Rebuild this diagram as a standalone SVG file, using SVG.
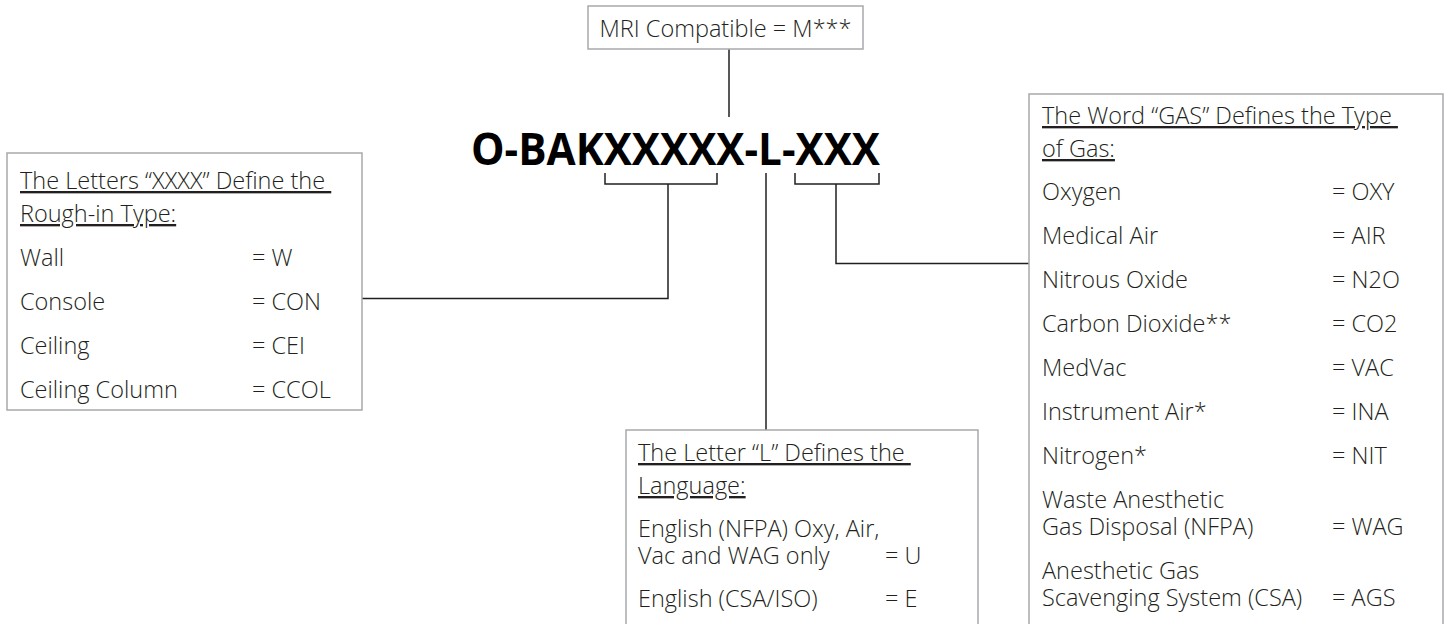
<svg xmlns="http://www.w3.org/2000/svg" width="1448" height="624" viewBox="0 0 1448 624">
<style>
.box{fill:#fff;stroke:#a7a9ac;stroke-width:1.5}
.t{font-family:"Open Sans","Liberation Sans",sans-serif;font-weight:300;font-size:23.5px;fill:#231f20}
.h{text-decoration:underline}
.title{font-family:"Open Sans","Liberation Sans",sans-serif;font-weight:700;font-size:44px;fill:#000}
.c{fill:none;stroke:#231f20;stroke-width:1.5}
</style>
<rect width="1448" height="624" fill="#fff"/>
<g id="connectors">
<path class="c" d="M729 49V117"/>
<path class="c" d="M605 173V184H717V173M668 184V298.5H362"/>
<path class="c" d="M766 173V430"/>
<path class="c" d="M795 173V184H879V173M836 184V263.5H1029"/>
</g>
<g id="mri">
<rect class="box" x="588" y="6" width="275" height="43"/>
<text class="t" x="725.5" y="37" text-anchor="middle">MRI Compatible = M***</text>
</g>
<g id="code">
<text class="title" x="471" y="165" textLength="409" lengthAdjust="spacingAndGlyphs">O-BAKXXXXX-L-XXX</text>
</g>
<g id="roughin">
<rect class="box" x="7" y="153" width="355" height="257"/>
<text class="t h" x="20" y="189" xml:space="preserve">The Letters “XXXX” Define the </text>
<text class="t h" x="20" y="222">Rough-in Type:</text>
<text class="t" x="20" y="266">Wall</text><text class="t" x="252" y="266">= W</text>
<text class="t" x="20" y="310">Console</text><text class="t" x="252" y="310">= CON</text>
<text class="t" x="20" y="354">Ceiling</text><text class="t" x="252" y="354">= CEI</text>
<text class="t" x="20" y="398">Ceiling Column</text><text class="t" x="252" y="398">= CCOL</text>
</g>
<g id="language">
<rect class="box" x="626" y="430" width="352" height="200"/>
<text class="t h" x="638" y="461" xml:space="preserve">The Letter “L” Defines the </text>
<text class="t h" x="638" y="494">Language:</text>
<text class="t" x="638" y="537">English (NFPA) Oxy, Air,<tspan x="638" y="564">Vac and WAG only</tspan></text>
<text class="t" x="885" y="564">= U</text>
<text class="t" x="638" y="607">English (CSA/ISO)</text><text class="t" x="885" y="607">= E</text>
</g>
<g id="gas">
<rect class="box" x="1029" y="94" width="414" height="536"/>
<text class="t h" x="1042" y="124" xml:space="preserve">The Word “GAS” Defines the Type </text>
<text class="t h" x="1042" y="157">of Gas:</text>
<text class="t" x="1042" y="200">Oxygen</text><text class="t" x="1332" y="200">= OXY</text>
<text class="t" x="1042" y="244">Medical Air</text><text class="t" x="1332" y="244">= AIR</text>
<text class="t" x="1042" y="288">Nitrous Oxide</text><text class="t" x="1332" y="288">= N2O</text>
<text class="t" x="1042" y="332">Carbon Dioxide**</text><text class="t" x="1332" y="332">= CO2</text>
<text class="t" x="1042" y="376">MedVac</text><text class="t" x="1332" y="376">= VAC</text>
<text class="t" x="1042" y="420">Instrument Air*</text><text class="t" x="1332" y="420">= INA</text>
<text class="t" x="1042" y="464">Nitrogen*</text><text class="t" x="1332" y="464">= NIT</text>
<text class="t" x="1042" y="508">Waste Anesthetic<tspan x="1042" y="535">Gas Disposal (NFPA)</tspan></text>
<text class="t" x="1332" y="535">= WAG</text>
<text class="t" x="1042" y="579">Anesthetic Gas<tspan x="1042" y="606">Scavenging System (CSA)</tspan></text>
<text class="t" x="1332" y="606">= AGS</text>
</g>
</svg>
